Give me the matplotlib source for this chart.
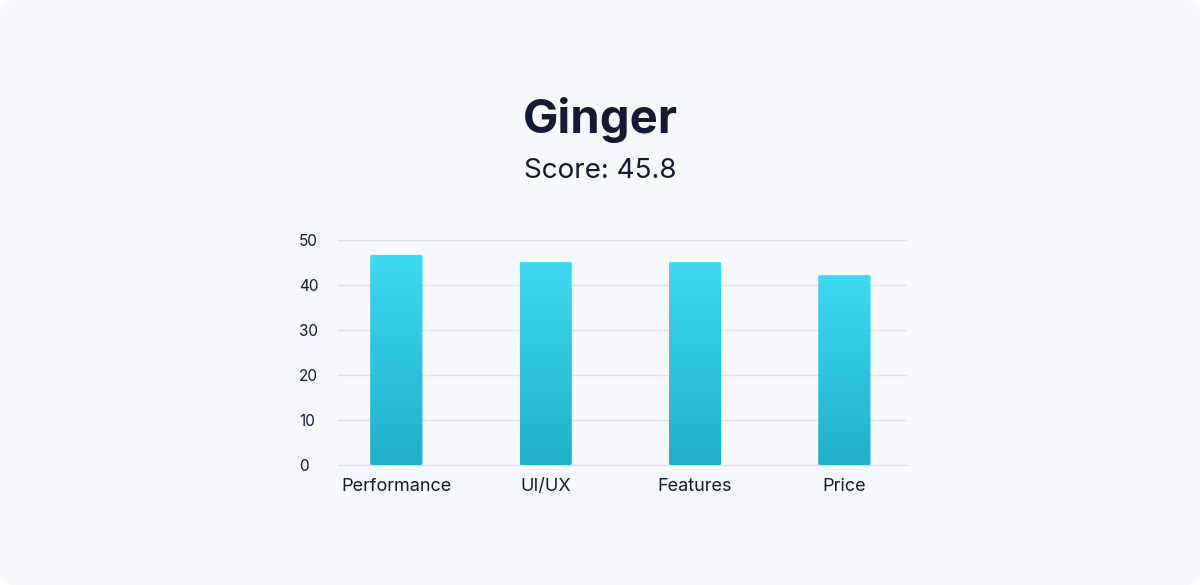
import numpy as np
import matplotlib
matplotlib.use("Agg")
import matplotlib.pyplot as plt
from matplotlib.patches import FancyBboxPatch
from matplotlib.colors import LinearSegmentedColormap

plt.rcParams["font.family"] = ["Inter", "DejaVu Sans"]

titulo = "Ginger"
subtitulo = "Score: 45.8"
categorias = ["Performance", "UI/UX", "Features", "Price"]
valores = [46.7, 45.1, 45.1, 42.2]
ticks_y = [0, 10, 20, 30, 40, 50]

FUNDO = "#f7f8fb"
TEXTO = "#141a33"
GRADE = "#dde0ea"

fig = plt.figure(figsize=(12, 5.85), dpi=100)
fig.patch.set_facecolor("white")
fig.patches.append(FancyBboxPatch((0, 0), 1, 1, boxstyle="round,pad=0,rounding_size=0.012",
                                  transform=fig.transFigure, facecolor=FUNDO, edgecolor="none",
                                  mutation_aspect=12 / 5.85, zorder=-10))

fig.text(0.5, 0.795, titulo, ha="center", va="center", fontsize=34, fontweight="bold", color=TEXTO)
fig.text(0.5, 0.708, subtitulo, ha="center", va="center", fontsize=20, color=TEXTO)

ax = fig.add_axes([0.2817, 0.2051, 0.4742, 0.3846])
ax.set_facecolor("none")

x = np.arange(len(categorias))
largura = 0.35
barras = ax.bar(x, valores, width=largura, color="none", zorder=3)

# gradiente vertical em cada barra
cmap = LinearSegmentedColormap.from_list("grad", ["#20b0c9", "#3cdaf2"])
gradiente = np.linspace(0, 1, 256).reshape(-1, 1)
for barra in barras:
    x0 = barra.get_x()
    w = barra.get_width()
    h = barra.get_height()
    forma = FancyBboxPatch((x0, 0), w, h, boxstyle="round,pad=0,rounding_size=0.02",
                           mutation_aspect=h / w * 0.08, facecolor="none", edgecolor="none")
    ax.add_patch(forma)
    img = ax.imshow(gradiente, extent=(x0, x0 + w, 0, h), origin="lower", cmap=cmap,
                    aspect="auto", zorder=3)
    img.set_clip_path(forma)

ax.set_xlim(-0.39, 3.42)
ax.set_ylim(0, 50)
ax.set_yticks(ticks_y)
ax.set_xticks(x)
ax.set_xticklabels(categorias)
ax.grid(axis="y", color=GRADE, linewidth=1, zorder=0)
ax.tick_params(axis="y", length=0, pad=28, labelsize=11, labelcolor=TEXTO)
ax.tick_params(axis="x", length=0, pad=9, labelsize=13, labelcolor=TEXTO)
for lado in ["top", "right", "left"]:
    ax.spines[lado].set_visible(False)
ax.spines["bottom"].set_color(GRADE)
for rotulo in ax.get_yticklabels():
    rotulo.set_horizontalalignment("left")
ax.yaxis.set_tick_params(pad=28)

fig.savefig("out.png", dpi=100, facecolor=fig.get_facecolor())
